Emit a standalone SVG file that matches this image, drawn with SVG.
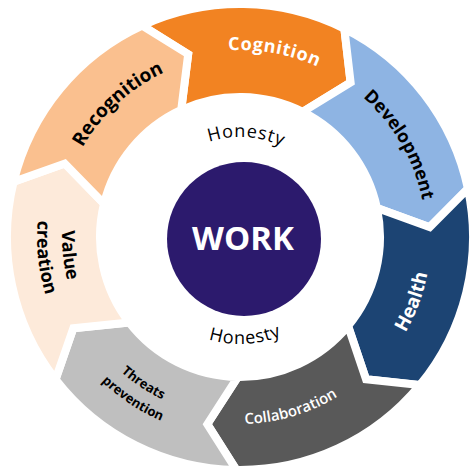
<svg xmlns="http://www.w3.org/2000/svg" xmlns:xlink="http://www.w3.org/1999/xlink" width="470" height="470" viewBox="0 0 470 470">
<style>
.seg{stroke:#fff;stroke-width:8;stroke-linejoin:miter;stroke-miterlimit:10}
.lbl{font-family:"Open Sans","Noto Sans","Liberation Sans",sans-serif;font-weight:700;font-size:18px}
.big{font-size:19px}
.sm{font-size:13px}
.col{font-size:15px;font-weight:600}
.hon{font-family:"Open Sans","Noto Sans","Liberation Sans",sans-serif;font-weight:400;font-size:18px;letter-spacing:0.8px;fill:#000}
.w{fill:#fff}.k{fill:#000}
</style>
<defs>
<path id="pRec" d="M 63.2 276.3 A 181 181 0 0 1 294.4 64.4"/>
<path id="pCog" d="M 97.81 115.56 A 187 187 0 0 1 416.27 174.58"/>
<path id="pDev" d="M 240 51 A 186 186 0 0 1 401.08 330"/>
<path id="pHea" d="M 271.52 425.38 A 191 191 0 0 0 387.38 115.5"/>
<path id="pCol" d="M 111.27 372.65 A 187 187 0 0 0 421.84 280.65"/>
<path id="pThr" d="M 60.34 226.02 A 180 180 0 0 0 320.32 398.08"/>
<path id="pPre" d="M 40.38 224.8 A 200 200 0 0 0 329.24 415.98"/>
<path id="pVal" d="M 135.37 93 A 178 178 0 0 0 167.6 399.6"/>
<path id="pCre" d="M 120.68 72.8 A 203 203 0 0 0 157.44 422.44"/>
<path id="pHonT" d="M 156.61 181.81 A 100 100 0 0 1 329.49 192.38"/>
<path id="pHonB" d="M 150.26 295.27 A 107 107 0 0 0 335.34 285.58"/>
</defs>
<g id="cognition">
<path class="seg" fill="#F28322" d="M 142.16 25.53 A 233 233 0 0 1 344.34 28.65 L 350.6 82.51 L 302.69 111.81 A 140 140 0 0 0 181.21 109.94 L 188.17 54.2 Z"/>
<text class="lbl w" style="letter-spacing:0.6px"><textPath xlink:href="#pCog" href="#pCog" startOffset="50%" text-anchor="middle">Cognition</textPath></text>
</g>
<g id="development">
<path class="seg" fill="#8EB4E3" d="M 344.34 28.65 A 233 233 0 0 1 467.94 188.68 L 429.75 227.16 L 376.96 207.96 A 140 140 0 0 0 302.69 111.81 L 350.6 82.51 Z"/>
<text class="lbl k"><textPath xlink:href="#pDev" href="#pDev" startOffset="50%" text-anchor="middle">Development</textPath></text>
</g>
<g id="health">
<path class="seg" fill="#1C4473" d="M 467.94 188.68 A 233 233 0 0 1 419.88 385.07 L 366.03 379.2 L 348.08 325.97 A 140 140 0 0 0 376.96 207.96 L 429.75 227.16 Z"/>
<text class="lbl big w"><textPath xlink:href="#pHea" href="#pHea" startOffset="50%" text-anchor="middle">Health</textPath></text>
</g>
<g id="collaboration">
<path class="seg" fill="#595959" d="M 419.88 385.07 A 233 233 0 0 1 236.39 469.98 L 207.36 424.17 L 237.83 376.99 A 140 140 0 0 0 348.08 325.97 L 366.03 379.2 Z"/>
<text class="lbl col w"><textPath xlink:href="#pCol" href="#pCol" startOffset="50%" text-anchor="middle">Collaboration</textPath></text>
</g>
<g id="threats-prevention">
<path class="seg" fill="#BFBFBF" d="M 236.39 469.98 A 233 233 0 0 1 55.58 379.41 L 73.33 328.2 L 129.19 322.57 A 140 140 0 0 0 237.83 376.99 L 207.36 424.17 Z"/>
<text class="lbl sm k"><textPath xlink:href="#pThr" href="#pThr" startOffset="50%" text-anchor="middle">Threats</textPath></text>
<text class="lbl sm k"><textPath xlink:href="#pPre" href="#pPre" startOffset="50%" text-anchor="middle">prevention</textPath></text>
</g>
<g id="value-creation">
<path class="seg" fill="#FDEADA" d="M 55.58 379.41 A 233 233 0 0 1 13.66 181.66 L 64.78 163.55 L 104 203.75 A 140 140 0 0 0 129.19 322.57 L 73.33 328.2 Z"/>
<text class="lbl k"><textPath xlink:href="#pVal" href="#pVal" startOffset="50%" text-anchor="middle">Value</textPath></text>
<text class="lbl k"><textPath xlink:href="#pCre" href="#pCre" startOffset="50%" text-anchor="middle">creation</textPath></text>
</g>
<g id="recognition">
<path class="seg" fill="#FAC08F" d="M 13.66 181.66 A 233 233 0 0 1 142.16 25.53 L 188.17 54.2 L 181.21 109.94 A 140 140 0 0 0 104 203.75 L 64.78 163.55 Z"/>
<text class="lbl big k"><textPath xlink:href="#pRec" href="#pRec" startOffset="50%" text-anchor="middle">Recognition</textPath></text>
</g>
<g id="honesty-top">
<text class="hon"><textPath xlink:href="#pHonT" href="#pHonT" startOffset="50%" text-anchor="middle">Honesty</textPath></text>
</g>
<g id="honesty-bottom">
<text class="hon"><textPath xlink:href="#pHonB" href="#pHonB" startOffset="50%" text-anchor="middle">Honesty</textPath></text>
</g>
<g id="work">
<circle cx="244" cy="239" r="77" fill="#2C1A6D"/>
<text x="243" y="250" text-anchor="middle" style="font-family:'Open Sans','Noto Sans','Liberation Sans',sans-serif;font-weight:700;font-size:33px;fill:#fff">WORK</text>
</g>
</svg>
